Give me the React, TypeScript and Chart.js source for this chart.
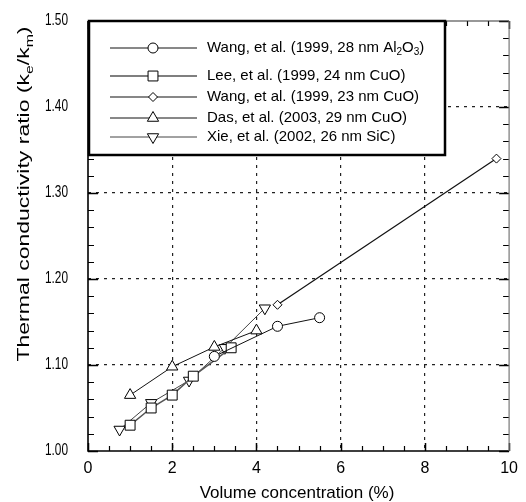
import React, { useEffect, useRef } from "react";
import { Chart, registerables } from "chart.js";
import { drawPoint } from "chart.js/helpers";

Chart.register(...registerables);

// ---- data ----
const wangAl2O3X = [3.0, 4.5, 5.5];
const wangAl2O3Y = [1.11, 1.145, 1.155];
const leeCuOX = [1.0, 1.5, 2.0, 2.5, 3.4];
const leeCuOY = [1.03, 1.05, 1.065, 1.087, 1.12];
const wangCuOX = [4.5, 9.7];
const wangCuOY = [1.17, 1.34];
const dasCuOX = [1.0, 2.0, 3.0, 4.0];
const dasCuOY = [1.065, 1.098, 1.121, 1.14];
const xieSiCX = [0.75, 1.5, 2.4, 3.25, 4.2];
const xieSiCY = [1.025, 1.056, 1.082, 1.12, 1.166];

const xTickLabels = ["0", "2", "4", "6", "8", "10"];
const yTickLabels = ["1.00", "1.10", "1.20", "1.30", "1.40", "1.50"];

const xTitle = "Volume concentration (%)";
const yTitleParts: [string, boolean][] = [
  ["Thermal conductivity ratio (k", false],
  ["e", true],
  ["/k", false],
  ["m", true],
  [")", false],
];

type Series = {
  parts: [string, boolean][];
  xs: number[];
  ys: number[];
  pointStyle: string;
  rotation: number;
  radius: number;
  lineColor: string;
  lineWidth: number;
};

const series: Series[] = [
  {
    parts: [["Wang, et al. (1999, 28 nm Al", false], ["2", true], ["O", false], ["3", true], [")", false]],
    xs: wangAl2O3X, ys: wangAl2O3Y, pointStyle: "circle", rotation: 0, radius: 5,
    lineColor: "#111", lineWidth: 1,
  },
  {
    parts: [["Lee, et al. (1999, 24 nm CuO)", false]],
    xs: leeCuOX, ys: leeCuOY, pointStyle: "rect", rotation: 0, radius: 7,
    lineColor: "#555", lineWidth: 1.5,
  },
  {
    parts: [["Wang, et al. (1999, 23 nm CuO)", false]],
    xs: wangCuOX, ys: wangCuOY, pointStyle: "rectRot", rotation: 0, radius: 4.5,
    lineColor: "#111", lineWidth: 1.2,
  },
  {
    parts: [["Das, et al. (2003, 29 nm CuO)", false]],
    xs: dasCuOX, ys: dasCuOY, pointStyle: "triangle", rotation: 0, radius: 6.5,
    lineColor: "#111", lineWidth: 1,
  },
  {
    parts: [["Xie, et al. (2002, 26 nm SiC)", false]],
    xs: xieSiCX, ys: xieSiCY, pointStyle: "triangle", rotation: 180, radius: 6.5,
    lineColor: "#444", lineWidth: 1,
  },
];

const FONT = "'Liberation Sans', Arial, Helvetica, sans-serif";

function drawParts(ctx: CanvasRenderingContext2D, parts: [string, boolean][], x: number, y: number, size: number, subSize: number) {
  let cx = x;
  for (const [t, sub] of parts) {
    ctx.font = `${sub ? subSize : size}px ${FONT}`;
    ctx.fillText(t, cx, sub ? y + size * 0.3 : y);
    cx += ctx.measureText(t).width;
  }
  return cx - x;
}
function measureParts(ctx: CanvasRenderingContext2D, parts: [string, boolean][], size: number, subSize: number) {
  let w = 0;
  for (const [t, sub] of parts) {
    ctx.font = `${sub ? subSize : size}px ${FONT}`;
    w += ctx.measureText(t).width;
  }
  return w;
}

const framePlugin = {
  id: "frameTicks",
  beforeDatasetsDraw(chart: any) {
    const ctx: CanvasRenderingContext2D = chart.ctx;
    const { left, right, top, bottom } = chart.chartArea;
    const xs = chart.scales.x;
    const ys = chart.scales.y;
    ctx.save();
    ctx.strokeStyle = "#000";
    for (let i = 0; i <= 20; i++) {
      const v = i * 0.5;
      const px = Math.round(xs.getPixelForValue(v)) + 0.5;
      const major = i % 4 === 0;
      const len = major ? 8 : 5;
      ctx.lineWidth = major ? 1.5 : 1.2;
      ctx.beginPath();
      ctx.moveTo(px, bottom);
      ctx.lineTo(px, bottom - len);
      ctx.moveTo(px, top);
      ctx.lineTo(px, top + len);
      ctx.stroke();
    }
    for (let i = 0; i <= 25; i++) {
      const v = 1 + i * 0.02;
      const py = Math.round(ys.getPixelForValue(v)) + 0.5;
      const major = i % 5 === 0;
      const len = major ? 10 : 6;
      ctx.lineWidth = major ? 1.5 : 1.2;
      ctx.beginPath();
      ctx.moveTo(left, py);
      ctx.lineTo(left + len, py);
      ctx.moveTo(right, py);
      ctx.lineTo(right - len, py);
      ctx.stroke();
    }
    ctx.lineWidth = 1.6;
    ctx.strokeStyle = "#000";
    ctx.beginPath();
    ctx.moveTo(left, top);
    ctx.lineTo(left, bottom);
    ctx.lineTo(right, bottom);
    ctx.stroke();
    ctx.lineWidth = 1.2;
    ctx.strokeStyle = "#333";
    ctx.beginPath();
    ctx.moveTo(left, top);
    ctx.lineTo(right, top);
    ctx.stroke();
    ctx.strokeStyle = "#777";
    ctx.beginPath();
    ctx.moveTo(right, top);
    ctx.lineTo(right, bottom);
    ctx.stroke();
    ctx.restore();
  },
  afterDatasetsDraw(chart: any) {
    const ctx: CanvasRenderingContext2D = chart.ctx;
    const { left, top } = chart.chartArea;
    const xs = chart.scales.x;
    const ys = chart.scales.y;
    ctx.save();
    // legend box
    const bx = left + 1, by = top, bw = 445 - bx, bh = 155 - by;
    ctx.fillStyle = "#fff";
    ctx.fillRect(bx, by, bw, bh);
    ctx.lineWidth = 2.5;
    ctx.strokeStyle = "#000";
    ctx.strokeRect(bx, by, bw, bh);
    const rows = [48, 76, 97, 118, 137];
    series.forEach((s, i) => {
      const y = rows[i];
      ctx.strokeStyle = s.lineColor;
      ctx.lineWidth = s.lineWidth;
      ctx.beginPath();
      ctx.moveTo(110, y);
      ctx.lineTo(197, y);
      ctx.stroke();
      ctx.fillStyle = "#fff";
      ctx.strokeStyle = "#000";
      ctx.lineWidth = 1;
      drawPoint(ctx, { pointStyle: s.pointStyle as any, rotation: s.rotation, radius: s.radius, borderWidth: 1 }, 153, y);
      ctx.fillStyle = "#000";
      ctx.textBaseline = "middle";
      ctx.textAlign = "left";
      drawParts(ctx, s.parts, 207, y, 15, 10);
    });
    // y tick labels (narrow)
    ctx.fillStyle = "#000";
    ctx.textBaseline = "middle";
    ctx.textAlign = "right";
    ctx.font = `16px ${FONT}`;
    yTickLabels.forEach((t) => {
      const py = ys.getPixelForValue(Number(t));
      ctx.save();
      ctx.translate(68, py);
      ctx.scale(0.74, 1);
      ctx.fillText(t, 0, 0);
      ctx.restore();
    });
    // x title
    ctx.textAlign = "left";
    ctx.font = `17px ${FONT}`;
    const xw = ctx.measureText(xTitle).width;
    const xc = 297;
    ctx.fillText(xTitle, xc - xw / 2, 493);
    // y title (stretched along its length)
    ctx.save();
    ctx.translate(25, 194);
    ctx.rotate(-Math.PI / 2);
    const yw = measureParts(ctx, yTitleParts, 16, 11);
    const target = 335;
    ctx.scale(target / yw, 1);
    drawParts(ctx, yTitleParts, -yw / 2, 0, 16, 11);
    ctx.restore();
    ctx.restore();
  },
};

export default function App() {
  const ref = useRef<HTMLCanvasElement>(null);
  useEffect(() => {
    if (!ref.current) return;
    Chart.defaults.font.family = FONT;
    const chart = new Chart(ref.current, {
      type: "scatter",
      data: {
        datasets: series.map((s) => ({
          label: s.parts.map((p) => p[0]).join(""),
          data: s.xs.map((x, i) => ({ x, y: s.ys[i] })),
          showLine: true,
          borderColor: s.lineColor,
          borderWidth: s.lineWidth,
          pointStyle: s.pointStyle as any,
          rotation: s.rotation,
          pointRadius: s.radius,
          pointBorderColor: "#000",
          pointBackgroundColor: "#fff",
          pointBorderWidth: 1,
        })),
      },
      options: {
        animation: false,
        responsive: false,
        devicePixelRatio: 1,
        layout: { padding: { top: 21, right: 11, left: 0, bottom: 0 } },
        plugins: { legend: { display: false }, tooltip: { enabled: false } },
        scales: {
          x: {
            type: "linear",
            min: 0,
            max: 10,
            afterFit: (s: any) => { s.height = 51; },
            afterBuildTicks: (s: any) => {
              s.ticks = xTickLabels.map((t) => ({ value: Number(t) }));
            },
            ticks: {
              color: "#000",
              font: { size: 16 },
              padding: 8,
              maxRotation: 0,
              callback: (v: any) => xTickLabels.find((t) => Number(t) === v) ?? "",
            },
            grid: {
              drawTicks: false,
              color: (c: any) => (c.tick && (c.tick.value <= 0 || c.tick.value >= 10) ? "rgba(0,0,0,0)" : "#222"),
              lineWidth: 1.2,
            },
            border: { display: false, dash: [3, 5] },
          },
          y: {
            type: "linear",
            min: 1.0,
            max: 1.5,
            afterFit: (s: any) => { s.width = 88; },
            afterBuildTicks: (s: any) => {
              s.ticks = yTickLabels.map((t) => ({ value: Number(t) }));
            },
            ticks: { display: false },
            grid: {
              drawTicks: false,
              color: (c: any) => (c.tick && (c.tick.value <= 1.0001 || c.tick.value >= 1.4999) ? "rgba(0,0,0,0)" : "#222"),
              lineWidth: 1.2,
            },
            border: { display: false, dash: [3, 5] },
          },
        },
      },
      plugins: [framePlugin],
    });
    return () => chart.destroy();
  }, []);
  return (
    <div style={{ position: "absolute", left: 0, top: 0, width: 526, height: 502, background: "#fff" }}>
      <canvas ref={ref} width={526} height={502} />
    </div>
  );
}
